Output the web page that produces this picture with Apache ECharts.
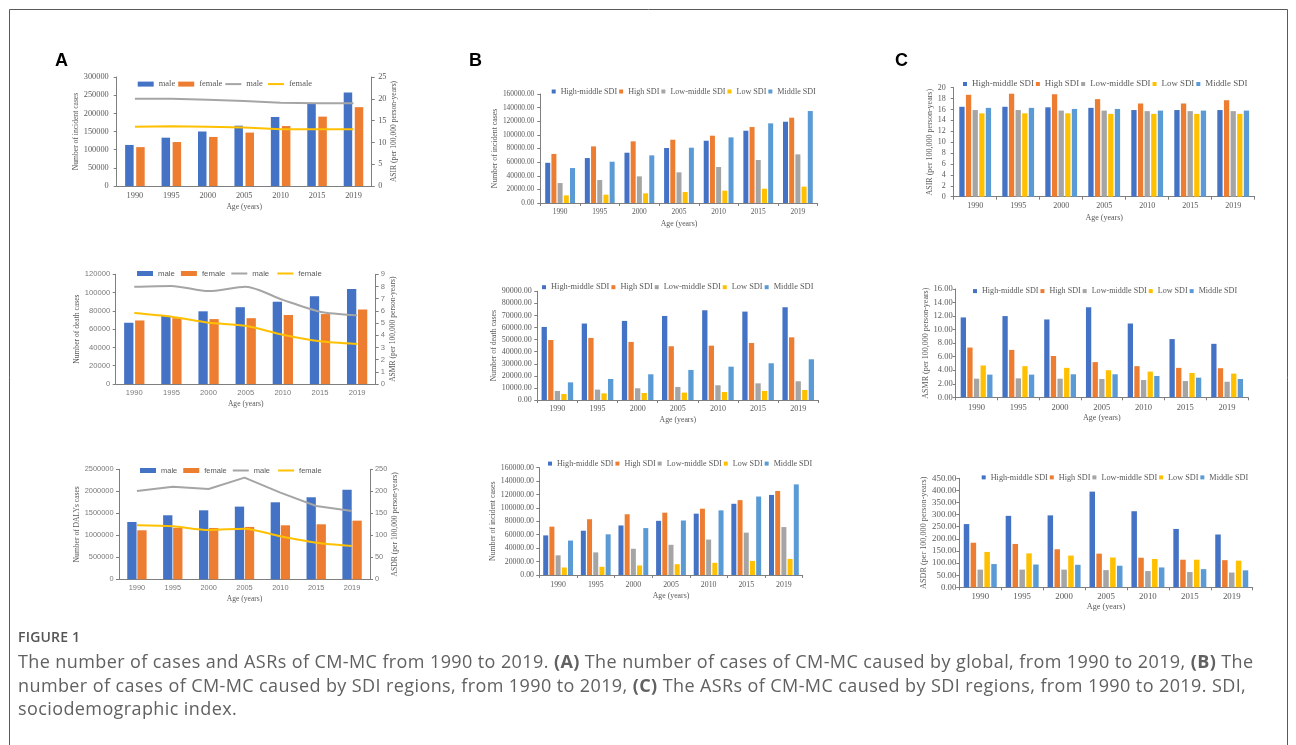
<!DOCTYPE html>
<html><head><meta charset="utf-8">
<script src="https://cdn.jsdelivr.net/npm/echarts@6/dist/echarts.min.js"></script>
<style>
html,body{margin:0;padding:0;background:#fff;}
#wrap{position:relative;width:1296px;height:745px;overflow:hidden;}
#c{position:absolute;left:0;top:0;width:1296px;height:745px;}
#figt{position:absolute;left:18px;top:628px;font:600 14px "Open Sans",sans-serif;color:#555;letter-spacing:0.2px;line-height:18px;white-space:nowrap;}
#cap{position:absolute;left:18px;top:650px;font:18px "Open Sans",sans-serif;color:#616161;letter-spacing:0.4px;line-height:23.5px;white-space:nowrap;}
#cap b{font-weight:700;}
</style>
</head><body><div id="wrap"><div id="c"></div><div id="figt"></div><div id="cap"></div></div>
<script>
// ---------------- DATA ----------------
const years = ['1990','1995','2000','2005','2010','2015','2019'];
const sexNames = ['male','female'];
const lineNames = ['male ','female ']; // line series (shown as male / female)
const sdiNames = ['High-middle SDI','High SDI','Low-middle SDI','Low SDI','Middle SDI'];

// A1 incidence
const incMale   = [113000,133000,150000,166000,190000,228000,257000];
const incFemale = [107000,121000,135000,147000,165000,191000,217000];
const asirMale   = [20.0,20.0,19.8,19.5,19.1,19.0,19.0];
const asirFemale = [13.6,13.7,13.6,13.4,13.0,13.0,13.0];
// A2 deaths
const deathMale   = [67000,74500,79500,84000,90000,96000,104000];
const deathFemale = [69500,72000,71000,72000,75500,76500,81500];
const asmrMale   = [7.98,8.05,7.62,7.98,6.90,5.93,5.63];
const asmrFemale = [5.82,5.52,5.03,4.78,4.04,3.50,3.28];
// A3 DALYs
const dalyMale   = [1303000,1455000,1568000,1652000,1750000,1864000,2038000];
const dalyFemale = [1114000,1170000,1167000,1190000,1227000,1250000,1333000];
const asdrMale   = [200.8,210.6,205.3,231.0,197.0,166.7,155.3];
const asdrFemale = [122.7,120.5,112.0,115.0,97.7,83.3,75.8];

// B1 / B3 incident cases by SDI
const incHM = [59000,66000,73800,80700,91400,106100,119300];
const incH  = [72000,83100,90500,92900,98800,111500,125200];
const incLM = [29300,33700,39100,45000,52800,63100,71400];
const incL  = [11200,12200,14200,16100,18100,21000,24000];
const incM  = [51300,60600,69900,81200,96300,116900,135000];
// B2 death cases by SDI
const dthHM = [60500,63300,65500,69600,74300,73200,76800];
const dthH  = [49700,51400,48100,44500,45000,47200,51900];
const dthLM = [7500,8600,9700,10800,12200,13800,15500];
const dthL  = [5000,5500,5800,6100,6600,7500,8300];
const dthM  = [14600,17400,21300,24900,27600,30400,33700];
// C1 ASIR by SDI
const asirHM = [16.5,16.5,16.4,16.3,15.9,15.9,15.9];
const asirH  = [18.7,18.9,18.8,17.9,17.1,17.1,17.7];
const asirLM = [15.9,15.9,15.8,15.8,15.7,15.7,15.7];
const asirL  = [15.3,15.3,15.3,15.2,15.2,15.2,15.2];
const asirM  = [16.3,16.3,16.1,16.1,15.8,15.8,15.8];
// C2 ASMR by SDI
const asmrHM = [11.8,12.0,11.5,13.3,10.9,8.6,7.9];
const asmrH  = [7.35,7.0,6.1,5.2,4.6,4.35,4.3];
const asmrLM = [2.75,2.8,2.75,2.7,2.55,2.4,2.3];
const asmrL  = [4.7,4.6,4.35,4.0,3.8,3.6,3.5];
const asmrM  = [3.35,3.35,3.4,3.4,3.15,2.9,2.7];
// C3 ASDR by SDI
const asdrHM = [261,295,297,395,314,241,218];
const asdrH  = [184,179,157,139,122,114,112];
const asdrLM = [73,73,73,71,67,63,61];
const asdrL  = [146,140,131,123,117,114,110];
const asdrM  = [96,94,93,89,82,75,70];

const captionTitle = 'FIGURE 1';
const captionLines = [
  'The number of cases and ASRs of CM-MC from 1990 to 2019. <b>(A)</b> The number of cases of CM-MC caused by global, from 1990 to 2019, <b>(B)</b> The',
  'number of cases of CM-MC caused by SDI regions, from 1990 to 2019, <b>(C)</b> The ASRs of CM-MC caused by SDI regions, from 1990 to 2019. SDI,',
  'sociodemographic index.'
];

// ---------------- STYLE ----------------
const SERIF = '"Liberation Serif","Times New Roman",serif';
const SANS = '"Liberation Sans",Arial,sans-serif';
const TXT = '#595959';
const AXC = '#7f7f7f';
const sexColors = ['#4472C4','#ED7D31'];
const lineColors = ['#A5A5A5','#FFC000'];
const sdiColors = ['#4472C4','#ED7D31','#A5A5A5','#FFC000','#5B9BD5'];

const grids = [], xAxes = [], yAxes = [], series = [], legends = [];

function baseAxes(p) {
  const gi = grids.length;
  grids.push({left:p.left, top:p.top, width:p.width, height:p.height});
  xAxes.push({
    type:'category', gridIndex:gi, data:years, boundaryGap:true,
    axisLine:{lineStyle:{color:AXC,width:1}},
    axisTick:{show:p.xTick, length:3, lineStyle:{color:AXC}},
    axisLabel:{interval:0, margin:p.xLabelMargin, fontFamily:p.tickFont, fontSize:p.tickSize, color:p.tickColor||TXT},
    name:'Age (years)', nameLocation:'middle', nameGap:p.xNameGap,
    nameTextStyle:{fontFamily:SERIF, fontSize:p.titleSize, color:TXT}
  });
  const yi = yAxes.length;
  yAxes.push({
    type:'value', gridIndex:gi, position:'left', min:0, max:p.yMax, interval:p.yInt,
    splitLine:{show:false},
    axisLine:{show:true, lineStyle:{color:AXC,width:1}},
    axisTick:{show:true, length:3, lineStyle:{color:AXC}},
    axisLabel:{margin:p.yLabelMargin, fontFamily:p.tickFont, fontSize:p.tickSize, color:p.tickColor||TXT,
      formatter:v => v.toFixed(p.dec)},
    name:p.yName, nameLocation:'middle', nameRotate:90, nameGap:p.yNameGap,
    nameTextStyle:{fontFamily:SERIF, fontSize:p.titleSize, color:TXT}
  });
  return {gi, xi:gi, yi};
}

function panelA(p) {
  const {xi, yi} = baseAxes(p);
  const y2 = yAxes.length;
  yAxes.push({
    type:'value', gridIndex:xi, position:'right', min:0, max:p.y2Max, interval:p.y2Int,
    splitLine:{show:false},
    axisLine:{show:true, lineStyle:{color:AXC,width:1}},
    axisTick:{show:true, length:3, lineStyle:{color:AXC}},
    axisLabel:{margin:p.y2LabelMargin, fontFamily:p.tickFont, fontSize:p.tickSize, color:p.tickColor||TXT},
    name:p.y2Name, nameLocation:'middle', nameRotate:90, nameGap:p.y2NameGap,
    nameTextStyle:{fontFamily:SERIF, fontSize:p.titleSize, color:TXT}
  });
  p.bars.forEach((d,i) => series.push({
    type:'bar', name:sexNames[i], xAxisIndex:xi, yAxisIndex:yi, data:d,
    barWidth:p.barWidth, barGap:p.barGap, itemStyle:{color:sexColors[i]}
  }));
  p.lines.forEach((d,i) => series.push({
    type:'line', name:lineNames[i], xAxisIndex:xi, yAxisIndex:y2, data:d,
    symbol:'none', smooth:p.smooth[i], itemStyle:{color:lineColors[i]},
    lineStyle:{color:lineColors[i], width:2}, z:5
  }));
  const lineIcon = 'path://M0,0H16V2H0Z';
  legends.push({
    left:p.legLeft, top:p.legTop, padding:0, itemWidth:16, itemHeight:5, itemGap:p.legGap,
    selectedMode:false, itemStyle:{borderWidth:0},
    textStyle:{fontFamily:p.legFont, fontSize:p.legSize, color:TXT},
    data:[{name:sexNames[0],icon:'rect'},{name:sexNames[1],icon:'rect'},
          {name:lineNames[0],icon:lineIcon},{name:lineNames[1],icon:lineIcon}]
  });
}

function panelS(p) {
  const {xi, yi} = baseAxes(p);
  p.bars.forEach((d,i) => series.push({
    type:'bar', name:sdiNames[i], xAxisIndex:xi, yAxisIndex:yi, data:d,
    barWidth:p.barWidth, barGap:p.barGap, itemStyle:{color:sdiColors[i]}
  }));
  legends.push({
    left:p.legLeft, top:p.legTop, padding:0, itemWidth:4, itemHeight:4, itemGap:p.legGap,
    selectedMode:false, icon:'rect', itemStyle:{borderWidth:0},
    textStyle:{fontFamily:SERIF, fontSize:p.legSize, color:TXT},
    data:sdiNames.slice()
  });
}

// ---------------- PANELS ----------------
panelA({left:116.7, top:77, width:255, height:109, bars:[incMale,incFemale], lines:[asirMale,asirFemale],
  yMax:300000, yInt:50000, y2Max:25, y2Int:5, dec:0, yName:'Number of incident cases', y2Name:'ASIR (per 100,000 person-years)',
  tickFont:SERIF, tickSize:8.3, titleSize:7.6, xTick:false, xLabelMargin:5.5, xNameGap:16.5, yLabelMargin:8, yNameGap:36,
  y2LabelMargin:6.5, y2NameGap:11, barWidth:8.5, barGap:'30%', smooth:[false,false],
  legLeft:137.7, legTop:79.6, legGap:3, legFont:SERIF, legSize:8.5});
panelA({left:115.7, top:274.3, width:260, height:109.7, bars:[deathMale,deathFemale], lines:[asmrMale,asmrFemale],
  yMax:120000, yInt:20000, y2Max:9, y2Int:1, dec:0, yName:'Number of death cases', y2Name:'ASMR (per 100,000 person-years)',
  tickFont:SANS, tickSize:7.6, tickColor:'#7a7a7a', titleSize:7.6, xTick:false, xLabelMargin:4.7, xNameGap:16, yLabelMargin:5.5, yNameGap:34,
  y2LabelMargin:5, y2NameGap:9, barWidth:9.3, barGap:'18%', smooth:[0.25,0.25],
  legLeft:137, legTop:269.5, legGap:6, legFont:SANS, legSize:7.8});
panelA({left:119, top:469.3, width:251, height:110, bars:[dalyMale,dalyFemale], lines:[asdrMale,asdrFemale],
  yMax:2500000, yInt:500000, y2Max:250, y2Int:50, dec:0, yName:'Number of DALYs cases', y2Name:'ASDR (per 100,000 person-years)',
  tickFont:SANS, tickSize:7.4, tickColor:'#7a7a7a', titleSize:7.6, xTick:false, xLabelMargin:4.9, xNameGap:15.8, yLabelMargin:5.5, yNameGap:37,
  y2LabelMargin:5, y2NameGap:11, barWidth:9.3, barGap:'8%', smooth:[false,0.25],
  legLeft:140, legTop:466.5, legGap:6, legFont:SANS, legSize:7.5});

panelS({left:540.3, top:94, width:277.4, height:109, bars:[incHM,incH,incLM,incL,incM],
  yMax:160000, yInt:20000, dec:2, yName:'Number of incident cases', tickFont:SERIF, tickSize:7.4, titleSize:7.8,
  xTick:true, xLabelMargin:6, xNameGap:16.5, yLabelMargin:6, yNameGap:41, barWidth:5, barGap:'24%',
  legLeft:551.7, legTop:87.5, legGap:2, legSize:8.1});
panelS({left:537.3, top:291.3, width:281, height:108.7, bars:[dthHM,dthH,dthLM,dthL,dthM],
  yMax:90000, yInt:10000, dec:2, yName:'Number of death cases', tickFont:SERIF, tickSize:8, titleSize:7.8,
  xTick:true, xLabelMargin:4.7, xNameGap:16, yLabelMargin:5.6, yNameGap:39, barWidth:5.3, barGap:'24%',
  legLeft:542, legTop:283.2, legGap:2, legSize:8.4});
panelS({left:539.3, top:467.6, width:263.4, height:107.4, bars:[incHM,incH,incLM,incL,incM],
  yMax:160000, yInt:20000, dec:2, yName:'Number of incident cases', tickFont:SERIF, tickSize:7.8, titleSize:7.8,
  xTick:true, xLabelMargin:5.8, xNameGap:17, yLabelMargin:5.3, yNameGap:41, barWidth:5, barGap:'24%',
  legLeft:548, legTop:459.6, legGap:2, legSize:8.1});

panelS({left:953.7, top:87.7, width:301, height:109, bars:[asirHM,asirH,asirLM,asirL,asirM],
  yMax:20, yInt:2, dec:0, yName:'ASIR (per 100,000 person-years)', tickFont:SERIF, tickSize:8, titleSize:8,
  xTick:true, xLabelMargin:5.2, xNameGap:17, yLabelMargin:8, yNameGap:18.7, barWidth:5.3, barGap:'25%',
  legLeft:963, legTop:79.5, legGap:2, legSize:8.9});
panelS({left:955.7, top:289, width:292.3, height:108.3, bars:[asmrHM,asmrH,asmrLM,asmrL,asmrM],
  yMax:16, yInt:2, dec:2, yName:'ASMR (per 100,000 person-years)', tickFont:SERIF, tickSize:8.5, titleSize:8,
  xTick:true, xLabelMargin:6, xNameGap:16.7, yLabelMargin:3, yNameGap:21, barWidth:5.3, barGap:'25%',
  legLeft:973, legTop:287.1, legGap:2, legSize:8.1});
panelS({left:959.3, top:478.3, width:293.4, height:109, bars:[asdrHM,asdrH,asdrLM,asdrL,asdrM],
  yMax:450, yInt:50, dec:2, yName:'ASDR (per 100,000 person-years)', tickFont:SERIF, tickSize:8.8, titleSize:8.2,
  xTick:true, xLabelMargin:5.2, xNameGap:16, yLabelMargin:3, yNameGap:23.6, barWidth:5.5, barGap:'25%',
  legLeft:981.7, legTop:473.4, legGap:2, legSize:8.2});

// ---------------- GRAPHICS ----------------
const graphic = [
  {type:'rect', silent:true, z:-10, shape:{x:9.5, y:9.5, width:1278, height:800},
    style:{fill:'none', stroke:'#5a5a5a', lineWidth:1}},
  {type:'text', x:55, y:61, style:{text:'A', font:'bold 18px "Liberation Sans"', fill:'#000', verticalAlign:'middle'}},
  {type:'text', x:469, y:61, style:{text:'B', font:'bold 18px "Liberation Sans"', fill:'#000', verticalAlign:'middle'}},
  {type:'text', x:895, y:61, style:{text:'C', font:'bold 18px "Liberation Sans"', fill:'#000', verticalAlign:'middle'}}
];

document.getElementById('figt').textContent = captionTitle;
document.getElementById('cap').innerHTML = captionLines.join('<br>');

const chart = echarts.init(document.getElementById('c'), null, {renderer:'canvas'});
chart.setOption({
  animation:false, backgroundColor:'transparent',
  grid:grids, xAxis:xAxes, yAxis:yAxes, series:series, legend:legends, graphic:graphic
});
</script></body></html>
